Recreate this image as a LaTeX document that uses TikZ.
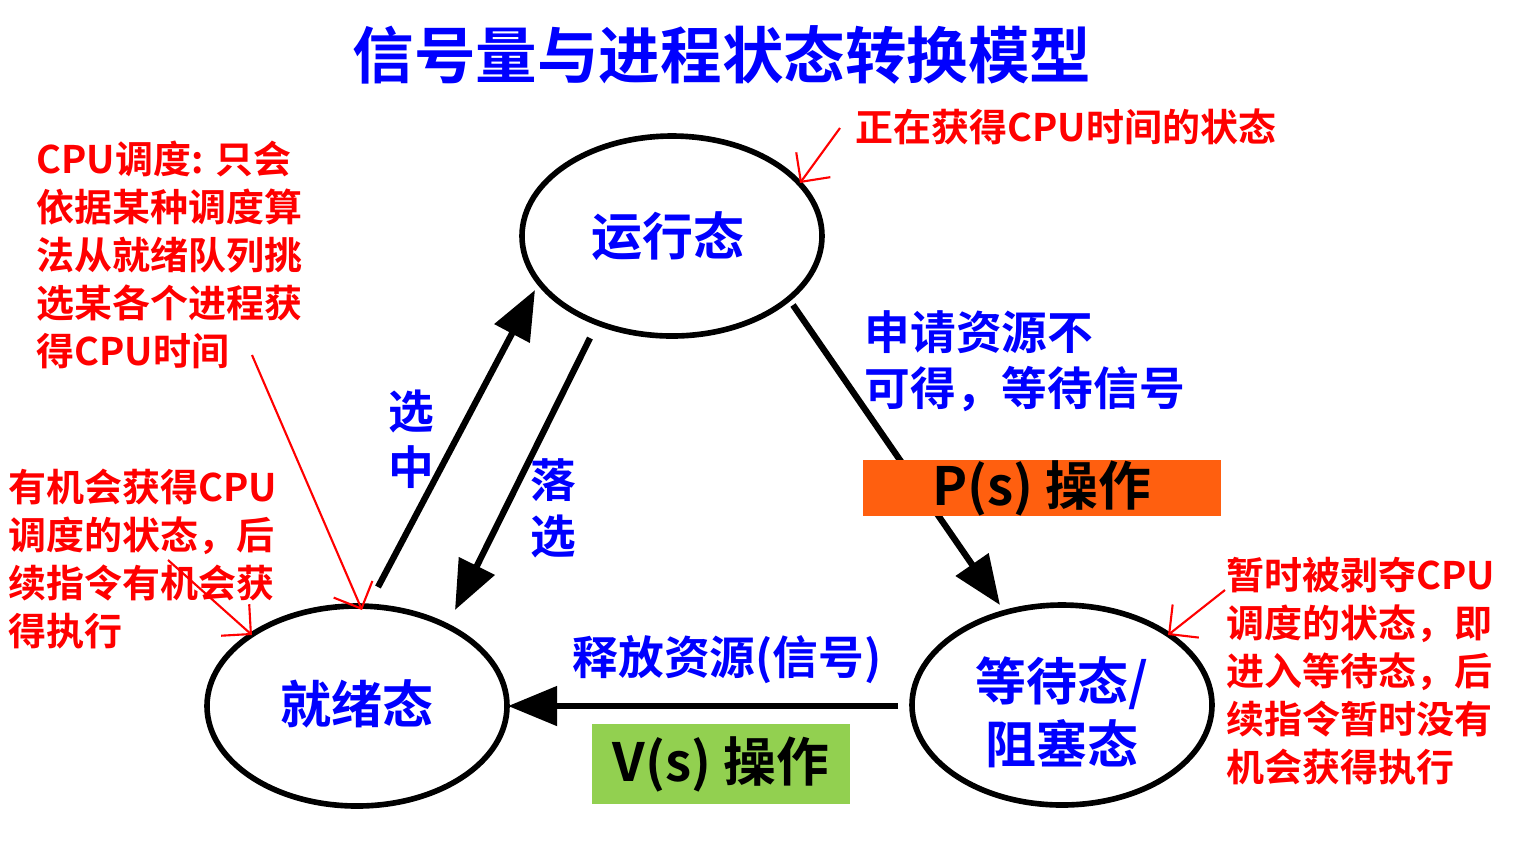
\documentclass[tikz,border=0pt]{standalone}
\usepackage{fontspec}
\setmainfont{Noto Sans CJK SC Bold}
\usetikzlibrary{arrows.meta}
\definecolor{tb}{HTML}{0000FF}
\definecolor{tr}{HTML}{FF0000}
\definecolor{po}{HTML}{FF5F0F}
\definecolor{vg}{HTML}{92D050}
\begin{document}
\begin{tikzpicture}[x=0.01cm,y=-0.01cm,
  st/.style={draw,line width=1.6pt,ellipse,minimum width=300\pgflinewidth},
  big/.style={->,line width=1.8pt,-{Triangle[length=14pt,width=11pt]}},
  redarr/.style={draw=tr,line width=0.6pt,-{Straight Barb[length=6pt]}},
  rtxt/.style={text=tr,align=left,anchor=north west,font=\fontsize{10.8pt}{13.7pt}\selectfont,inner sep=0pt},
  btxt/.style={text=tb,font=\fontsize{13pt}{16pt}\selectfont}]
\useasboundingbox (0,0) rectangle (1533,847);
\fill[white] (0,0) rectangle (1533,847);
\node[text=tb,font=\fontsize{17.5pt}{20pt}\selectfont] (title) at (722,55) {信号量与进程状态转换模型};
\draw[line width=1.6pt] (672,236) ellipse (150 and 100);
\draw[line width=1.6pt] (357,706) ellipse (150 and 100);
\draw[line width=1.6pt] (1062,705) ellipse (150 and 100);
\node[text=tb,font=\fontsize{14.5pt}{17pt}\selectfont] (run) at (668,236) {运行态};
\node[text=tb,font=\fontsize{14.5pt}{17pt}\selectfont] (ready) at (357,704) {就绪态};
\node[text=tb,font=\fontsize{14.5pt}{18pt}\selectfont,align=center] (wait) at (1062,712) {等待态/\\阻塞态};
\coordinate (a1) at (378,587); \coordinate (a2) at (535,290);
\coordinate (b1) at (590,338); \coordinate (b2) at (455,610);
\coordinate (c1) at (793,305); \coordinate (c2) at (1000,605);
\coordinate (d1) at (898,706); \coordinate (d2) at (508,706);
\draw[big] (a1) -- (a2);
\draw[big] (b1) -- (b2);
\draw[big] (c1) -- (c2);
\draw[big] (d1) -- (d2);
\node[btxt,align=center] (sel) at (411,439) {选\\中};
\node[btxt,align=center] (drop) at (553,508) {落\\选};
\node[btxt,align=left,anchor=north west,inner sep=0pt] (req) at (864,310) {申请资源不\\可得，等待信号};
\node[btxt] (rel) at (727,660) {释放资源(信号)};
\node[fill=po,minimum width=255\pgflinewidth,inner sep=0pt,font=\fontsize{15pt}{18pt}\selectfont] (P) at (1042,488) {\makebox[2.55cm]{P(s) 操作}};
\node[fill=vg,inner sep=0pt,font=\fontsize{15pt}{18pt}\selectfont,minimum height=0.8cm] (V) at (721,764) {\makebox[2.57cm]{V(s) 操作}};
\node[rtxt] (t1) at (855,108) {正在获得CPU时间的状态};
\node[rtxt] (t2) at (36,140) {CPU调度: 只会\\依据某种调度算\\法从就绪队列挑\\选某各个进程获\\得CPU时间};
\node[rtxt] (t3) at (8,468) {有机会获得CPU\\调度的状态，后\\续指令有机会获\\得执行};
\node[rtxt] (t4) at (1226,556) {暂时被剥夺CPU\\调度的状态，即\\进入等待态，后\\续指令暂时没有\\机会获得执行};
\coordinate (r1) at (840,128); \coordinate (r1e) at (800,183);
\coordinate (r2) at (252,355); \coordinate (r2e) at (362,610);
\coordinate (r3) at (168,560); \coordinate (r3e) at (252,635);
\coordinate (r4) at (1225,590); \coordinate (r4e) at (1168,635);
\draw[redarr] (r1) -- (r1e);
\draw[redarr] (r2) -- (r2e);
\draw[redarr] (r3) -- (r3e);
\draw[redarr] (r4) -- (r4e);
\end{tikzpicture}
\end{document}
